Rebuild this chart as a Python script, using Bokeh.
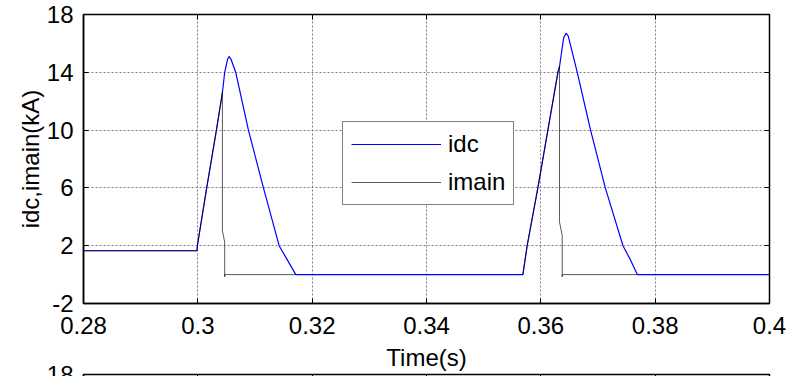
import numpy as np
from bokeh.plotting import figure
from bokeh.layouts import column
from bokeh.models import Range1d, FixedTicker, LinearAxis
from bokeh.embed import file_html
from bokeh.resources import INLINE

# ---- data ----
idc_t = [0.28, 0.29985, 0.29992, 0.30155, 0.30325, 0.30430, 0.3047, 0.3052, 0.30546,
         0.3058, 0.30663, 0.30885, 0.31148, 0.31422, 0.31568, 0.31714,
         0.35686, 0.35761, 0.35948, 0.36123, 0.36299, 0.36327, 0.3640, 0.36444,
         0.3648, 0.36637, 0.3687, 0.37128, 0.37437, 0.3757, 0.37688, 0.4]
idc_v = [1.65, 1.65, 2.0, 6.0, 10.0, 12.6, 14.0, 14.9, 15.1,
         14.9, 14.0, 10.0, 6.0, 2.0, 1.0, 0.0,
         0.0, 2.0, 6.0, 10.0, 14.0, 14.4, 16.4, 16.7,
         16.5, 14.0, 10.0, 6.0, 2.0, 1.0, 0.0, 0.0]

imain_t = [0.28, 0.29985, 0.29992, 0.30155, 0.30325, 0.30430, 0.30430, 0.30470,
           0.30470, 0.30470, 0.31714, np.nan,
           0.35686, 0.35761, 0.35948, 0.36123, 0.36299, 0.36327, 0.36327, 0.36374,
           0.36374, 0.36374, 0.37688]
imain_v = [1.65, 1.65, 2.0, 6.0, 10.0, 12.6, 3.05, 2.24,
           -0.15, 0.0, 0.0, np.nan,
           0.0, 2.0, 6.0, 10.0, 14.0, 14.4, 3.63, 2.71,
           -0.15, 0.0, 0.0]

x_ticks = [0.28, 0.3, 0.32, 0.34, 0.36, 0.38, 0.4]
x_tick_labels = ["0.28", "0.3", "0.32", "0.34", "0.36", "0.38", "0.4"]
y_ticks = [-2, 2, 6, 10, 14, 18]
y_tick_labels = ["-2", "2", "6", "10", "14", "18"]
# only the top tick of the next panel is visible
next_y_ticks = [18]
next_y_tick_labels = ["18"]

FONT = "Liberation Sans"
FS = "24px"


def style_axis(ax):
    ax.major_tick_in = 5
    ax.major_tick_out = 0
    ax.minor_tick_in = 0
    ax.minor_tick_out = 0
    ax.axis_line_color = "black"
    ax.axis_line_width = 1.5
    ax.major_tick_line_color = "black"
    ax.major_label_text_font = FONT
    ax.major_label_text_font_size = FS
    ax.major_label_text_color = "black"
    ax.axis_label_text_font = FONT
    ax.axis_label_text_font_size = FS
    ax.axis_label_text_font_style = "normal"
    ax.axis_label_text_color = "black"


def ticks_only_axis(ticks):
    ax2 = LinearAxis(ticker=FixedTicker(ticks=ticks))
    ax2.major_tick_in = 5
    ax2.major_tick_out = 0
    ax2.minor_tick_in = 0
    ax2.minor_tick_out = 0
    ax2.major_label_text_font_size = "8px"
    ax2.major_label_text_color = None
    ax2.major_label_standoff = 0
    ax2.axis_line_color = None
    ax2.major_tick_line_color = "black"
    return ax2


p = figure(width=796, height=374, output_backend="svg", toolbar_location=None,
           x_range=Range1d(0.28, 0.4), y_range=Range1d(-2, 18),
           min_border_left=83, min_border_right=27, min_border_top=14,
           min_border_bottom=71)
p.background_fill_color = "white"
p.border_fill_color = "white"
p.outline_line_color = "black"
p.outline_line_width = 1.5

xa = p.xaxis[0]
ya = p.yaxis[0]
xa.ticker = FixedTicker(ticks=x_ticks)
ya.ticker = FixedTicker(ticks=y_ticks)
xa.major_label_overrides = {t: s for t, s in zip(x_ticks, x_tick_labels)}
ya.major_label_overrides = {t: s for t, s in zip(y_ticks, y_tick_labels)}
xa.axis_label = "Time(s)"
ya.axis_label = "idc,imain(kA)"
style_axis(xa)
style_axis(ya)
xa.major_label_standoff = 13
xa.axis_label_standoff = 7
ya.major_label_standoff = 10
ya.axis_label_standoff = 0

p.add_layout(ticks_only_axis(x_ticks), "above")
p.add_layout(ticks_only_axis(y_ticks), "right")

for g in (p.xgrid[0], p.ygrid[0]):
    g.grid_line_color = "#707070"
    g.grid_line_dash = "2 2"
    g.grid_line_width = 1
    g.grid_line_alpha = 0.9
p.xgrid[0].ticker = FixedTicker(ticks=x_ticks)
p.ygrid[0].ticker = FixedTicker(ticks=y_ticks)

r_idc = p.line(np.array(idc_t), np.array(idc_v), line_color="#0000ff", line_width=1.2,
               legend_label="idc")
r_imain = p.line(np.array(imain_t, dtype=float), np.array(imain_v, dtype=float),
                 line_color="black", line_width=1.0, line_alpha=0.65,
                 legend_label="imain")

legend = p.legend[0]
legend.location = (259, 98)
legend.border_line_color = "black"
legend.border_line_width = 1.5
legend.background_fill_color = "white"
legend.background_fill_alpha = 1.0
legend.label_text_font = FONT
legend.label_text_font_size = FS
legend.label_text_color = "black"
legend.glyph_width = 90
legend.glyph_height = 28
legend.label_height = 28
legend.label_standoff = 7
legend.padding = 8
legend.spacing = 10
legend.margin = 0

# ---- top edge of the next panel (cut off by the picture's bottom edge) ----
p2 = figure(width=796, height=30, output_backend="svg", toolbar_location=None,
            x_range=Range1d(0.28, 0.4), y_range=Range1d(-2, 18),
            min_border_left=83, min_border_right=27, min_border_top=14,
            min_border_bottom=0, x_axis_location="above")
p2.background_fill_color = None
p2.border_fill_color = None
p2.outline_line_color = "black"
p2.outline_line_width = 1.5
p2.grid.visible = False
xa2 = p2.xaxis[0]
xa2.ticker = FixedTicker(ticks=x_ticks)
xa2.major_tick_in = 5
xa2.major_tick_out = 0
xa2.minor_tick_in = 0
xa2.minor_tick_out = 0
xa2.major_label_text_font_size = "8px"
xa2.major_label_text_color = None
xa2.major_label_standoff = 0
xa2.axis_line_color = None
ya2 = p2.yaxis[0]
ya2.ticker = FixedTicker(ticks=next_y_ticks)
ya2.major_label_overrides = {t: s for t, s in zip(next_y_ticks, next_y_tick_labels)}
style_axis(ya2)
ya2.major_label_standoff = 10
p2.margin = (-14, 0, 0, 0)

layout = column(p, p2, spacing=0, width=796, height=376,
                styles={"overflow": "hidden"})
open("out.html", "w").write(file_html(layout, INLINE))
